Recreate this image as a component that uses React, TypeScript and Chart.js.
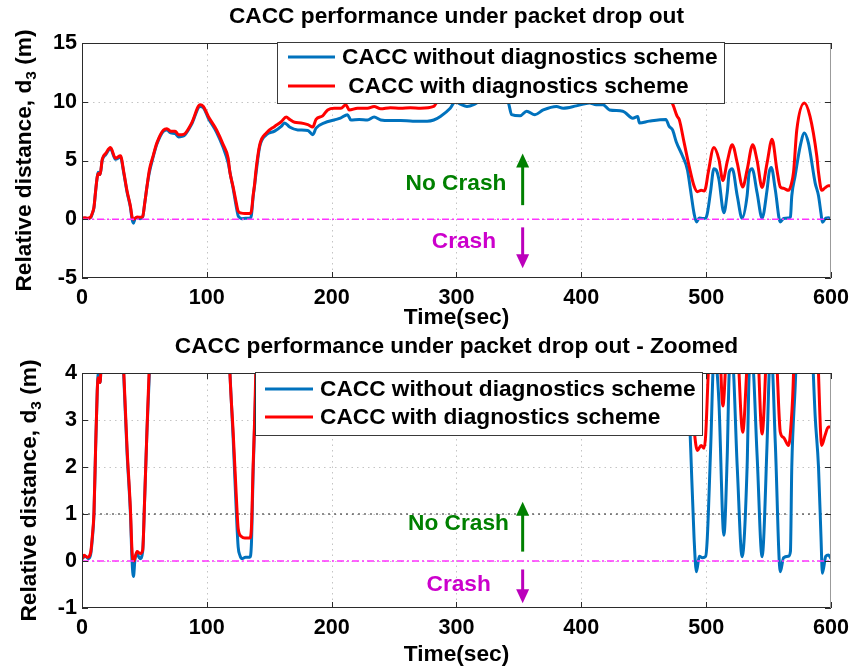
import { useEffect, useRef } from 'react';
import { Chart, registerables } from 'chart.js';

Chart.register(...registerables);

const FONT = '"Liberation Sans", Arial, Helvetica, sans-serif';
const TEXT_SIZE = 22.7;
const TICK_SIZE = 21.6;

// Inter-vehicle gap d3 (m) over time (s) — CACC without the diagnostics scheme
const timeWithout = [
  0, 3, 5, 7, 8.2, 9.6, 10.9, 12.2, 13, 14.5, 16.2, 19, 22.8, 26.8, 30.8, 33.5, 36.1, 38.8, 40.1, 41.2,
  42.5, 44, 46.5, 48.6, 50.2, 52, 54, 57, 60, 65.3, 68, 71, 74.6, 77.3, 80, 82.6, 87.9, 94.6, 97.2, 101.2,
  107.8, 113.1, 117.1, 118.5, 121.1, 123.7, 125.1, 126.5, 128, 131, 134.4, 135.7, 137.1, 138.4, 139.5, 142.4, 147.7, 154.3, 159.6, 162.3,
  166.3, 172.9, 180.9, 184.9, 187.5, 194.2, 202.1, 207, 212.7, 215.4, 222, 228.7, 234, 239.3, 247, 255.2, 265, 276.5, 281.8, 287.1,
  295, 299, 303, 308.4, 313.7, 319, 325, 333, 339, 341.6, 344.2, 350.9, 356.2, 362.8, 369.5, 380.1, 385.4, 396, 406.6, 411.9,
  417.3, 422.6, 433.2, 441.2, 445.2, 446.5, 454.4, 467.7, 470.4, 473.1, 476, 481, 485, 487.6, 490.3, 492.2, 494.5, 497, 499.6, 500.9,
  503.6, 506.2, 508, 510.2, 514.2, 516.9, 518.5, 520.9, 524.9, 528.8, 532.8, 534.5, 536.8, 540.8, 544.8, 548.8, 550.5, 552.2, 555.4, 559.4,
  562, 566, 567.5, 568.6, 571.3, 575.3, 578.7, 581.9, 587.3, 590, 592, 593.1, 595.8, 597.9, 600,
];
const distWithout = [
  0.05, 0.1, 0.05, 0.15, 0.45, 1.0, 2.4, 3.6, 4.0, 3.8, 5.0, 5.5, 6.0, 5.1, 5.3, 3.9, 2.3, 1.0, 0.0, -0.33,
  0.05, 0.15, 0.05, 0.2, 1.33, 2.74, 4.0, 5.3, 6.4, 7.5, 7.6, 7.35, 7.3, 7.0, 7.05, 7.2, 8.1, 9.6, 9.5, 8.6,
  7.4, 6.1, 4.8, 4.0, 2.6, 1.0, 0.3, 0.12, 0.05, 0.08, 0.08, 0.35, 1.9, 3.0, 4.0, 6.2, 7.2, 7.5, 7.9, 8.2,
  7.85, 7.6, 7.55, 7.2, 7.75, 8.2, 8.45, 8.6, 8.9, 8.45, 8.5, 8.45, 8.7, 8.45, 8.4, 8.4, 8.35, 8.35, 8.45, 8.75,
  9.45, 10.0, 9.8, 9.6, 9.75, 10.1, 10.4, 10.5, 10.3, 9.9, 8.9, 8.8, 9.2, 8.9, 9.3, 9.6, 9.45, 9.65, 9.9, 9.75,
  9.75, 9.3, 9.2, 8.6, 8.75, 8.2, 8.35, 8.5, 7.9, 7.6, 6.6, 5.4, 4.2, 2.4, 0.5, -0.23, 0.1, 0.07, 0.1, 0.48,
  2.4, 4.3, 4.2, 3.4, 0.55, 2.25, 4.0, 4.3, 2.0, 0.09, 2.0, 4.0, 4.3, 2.25, 0.09, 2.5, 4.0, 4.4, 2.5, -0.23,
  0.07, 0.1, 0.2, 2.0, 3.7, 6.2, 7.35, 6.5, 3.1, 2.0, 0.5, -0.26, 0.1, 0.13, 0.05,
];

// Inter-vehicle gap d3 (m) over time (s) — CACC with the diagnostics scheme
const timeWith = [
  0, 1.6, 4.3, 6.9, 8.2, 9.6, 10.9, 12.2, 13, 14.5, 16.2, 19, 22.8, 26.8, 30.8, 33.5, 36.1, 38.8, 40.1, 41.4,
  44.1, 46.7, 48.6, 50.2, 52, 54, 57, 60, 65.3, 68, 71, 74.6, 77.3, 80, 82.6, 87.9, 94.6, 97.2, 101.2, 107.8,
  113.1, 117.1, 118.5, 121.1, 123.7, 125.1, 127.7, 130.4, 134.4, 135.7, 137.1, 138.4, 139.2, 142.4, 147.7, 154.3, 159.6, 163.6, 166.3, 170.3,
  175.5, 180.9, 184.9, 187.5, 192.8, 196.8, 202.1, 207.4, 211.4, 214.1, 220.7, 228.7, 234, 239.3, 247, 255.2, 263, 271.2, 281.8, 284.5,
  290, 300, 320, 340, 360, 380, 400, 420, 440, 460, 468, 472.8, 476.8, 478.4, 482.4, 486.4, 490.4, 493, 496, 498.3,
  499.6, 501.7, 506.2, 510.2, 513.4, 516.9, 520.9, 524.9, 529.3, 532.8, 537.3, 540.8, 544.8, 548.8, 552.8, 556.7, 559.4, 562, 566, 568,
  570, 572.6, 578.7, 583.2, 588.6, 590, 592.6, 595.2, 597.9, 600,
];
const distWith = [
  0.05, 0.12, 0.08, 0.18, 0.5, 1.05, 2.4, 3.6, 3.9, 3.8, 5.1, 5.6, 6.1, 5.2, 5.4, 4.0, 2.4, 1.1, 0.2, 0.0,
  0.2, 0.16, 0.23, 1.33, 2.74, 4.2, 5.4, 6.5, 7.6, 7.7, 7.5, 7.5, 7.2, 7.2, 7.3, 8.2, 9.75, 9.6, 8.75, 7.6,
  6.35, 5.2, 4.0, 2.74, 1.33, 0.69, 0.52, 0.49, 0.49, 0.69, 2.03, 3.1, 4.0, 6.35, 7.35, 7.9, 8.3, 8.7, 8.5, 8.25,
  8.2, 8.05, 7.85, 8.5, 8.8, 9.3, 9.45, 9.45, 9.75, 9.3, 9.45, 9.45, 9.6, 9.4, 9.5, 9.45, 9.5, 9.45, 9.6, 10.0,
  10.5, 10.7, 10.8, 10.9, 10.6, 10.8, 10.9, 10.8, 10.7, 10.6, 10.4, 9.9, 8.75, 8.5, 6.5, 4.5, 2.8, 2.35, 2.46, 2.4,
  2.67, 4.0, 6.1, 5.1, 3.3, 4.9, 6.35, 4.8, 2.74, 4.2, 6.35, 5.0, 2.7, 4.8, 6.8, 4.2, 2.74, 2.63, 2.46, 2.9,
  4.0, 7.6, 9.9, 8.75, 5.4, 4.0, 2.46, 2.67, 2.85, 2.85,
];

const seriesLabels = ['CACC without diagnostics scheme', 'CACC with diagnostics scheme'];
const seriesColors = ['#0072BD', '#FF0000'];

const timeRange = [0, 600];
const timeStep = 100;
const fullRange = [-5, 15];
const fullStep = 5;
const zoomRange = [-1, 4];
const zoomStep = 1;

const crashLevel = 0; // d3 = 0 m: collision boundary
const marginLevel = 1; // d3 = 1 m: reference line in the zoomed view

const safeText = 'No Crash';
const crashText = 'Crash';

type Note = {
  safe: { t: number; v: number };
  safeArrow: { t: number; from: number; to: number };
  crash: { t: number; v: number };
  crashArrow: { t: number; from: number; to: number };
};

type PanelSpec = {
  title: string;
  height: number;
  areaTop: number;
  areaBottom: number;
  range: number[];
  step: number;
  legend: { x: number; y: number; w: number; h: number; lineX0: number; lineX1: number; textX: number; rows: number[] };
  legendLabels: string[];
  notes: Note;
  titleY: number;
  xLabelY: number;
  yLabelX: number;
  showMargin: boolean;
};

const AREA_LEFT = 82;
const AREA_RIGHT = 835;
const WIDTH = 856;

const panels: PanelSpec[] = [
  {
    title: 'CACC performance under packet drop out',
    height: 335,
    areaTop: 43,
    areaBottom: 278,
    range: fullRange,
    step: fullStep,
    legend: { x: 277, y: 42, w: 447, h: 61, lineX0: 288, lineX1: 335, textX: 342, rows: [57, 86] },
    legendLabels: [seriesLabels[0], ' ' + seriesLabels[1]],
    notes: {
      safe: { t: 340, v: 3.06 },
      safeArrow: { t: 353, from: 1.2, to: 5.6 },
      crash: { t: 331.7, v: -1.9 },
      crashArrow: { t: 353, from: -0.69, to: -4.17 },
    },
    titleY: 17,
    xLabelY: 318,
    yLabelX: 23,
    showMargin: false,
  },
  {
    title: 'CACC performance under packet drop out - Zoomed',
    height: 336,
    areaTop: 38,
    areaBottom: 273,
    range: zoomRange,
    step: zoomStep,
    legend: { x: 255, y: 37, w: 447, h: 63, lineX0: 265, lineX1: 313, textX: 320, rows: [54, 82] },
    legendLabels: seriesLabels,
    notes: {
      safe: { t: 342, v: 0.8 },
      safeArrow: { t: 353, from: 0.2, to: 1.26 },
      crash: { t: 327.5, v: -0.51 },
      crashArrow: { t: 353, from: -0.18, to: -0.9 },
    },
    titleY: 12,
    xLabelY: 320,
    yLabelX: 27.5,
    showMargin: true,
  },
];

function toPoints(ts: number[], vs: number[]) {
  return ts.map((t, i) => ({ x: t, y: vs[i] }));
}

function drawArrow(ctx: CanvasRenderingContext2D, x: number, y0: number, y1: number, color: string) {
  const dir = y1 < y0 ? -1 : 1;
  const head = 14;
  ctx.save();
  ctx.strokeStyle = color;
  ctx.fillStyle = color;
  ctx.lineWidth = 3;
  ctx.beginPath();
  ctx.moveTo(x, y0);
  ctx.lineTo(x, y1 - dir * head * 0.8);
  ctx.stroke();
  ctx.beginPath();
  ctx.moveTo(x, y1);
  ctx.lineTo(x - 6.5, y1 - dir * head);
  ctx.lineTo(x + 6.5, y1 - dir * head);
  ctx.closePath();
  ctx.fill();
  ctx.restore();
}

function makeConfig(spec: PanelSpec): any {
  const textFont = `bold ${TEXT_SIZE}px ${FONT}`;

  const gridPlugin = {
    id: 'dottedGrid',
    beforeDatasetsDraw(chart: any) {
      const { ctx, chartArea: a, scales } = chart;
      const xs = scales.x;
      const ys = scales.y;
      ctx.save();
      ctx.strokeStyle = '#c4c4c4';
      ctx.lineWidth = 1;
      ctx.setLineDash([1.5, 4]);
      xs.ticks.forEach((tk: any) => {
        const px = Math.round(xs.getPixelForValue(tk.value)) + 0.5;
        if (px > a.left + 2 && px < a.right - 2) {
          ctx.beginPath();
          ctx.moveTo(px, a.top);
          ctx.lineTo(px, a.bottom);
          ctx.stroke();
        }
      });
      ys.ticks.forEach((tk: any) => {
        const py = Math.round(ys.getPixelForValue(tk.value)) + 0.5;
        if (py > a.top + 2 && py < a.bottom - 2) {
          ctx.beginPath();
          ctx.moveTo(a.left, py);
          ctx.lineTo(a.right, py);
          ctx.stroke();
        }
      });
      ctx.restore();
    },
  };

  const overlayPlugin = {
    id: 'overlay',
    afterDatasetsDraw(chart: any) {
      const { ctx, chartArea: a, scales } = chart;
      const xs = scales.x;
      const ys = scales.y;
      ctx.save();

      // axes box
      ctx.lineWidth = 1;
      ctx.strokeStyle = '#2b2b2b';
      ctx.beginPath();
      ctx.moveTo(a.right, a.top + 0.5);
      ctx.lineTo(a.left + 0.5, a.top + 0.5);
      ctx.lineTo(a.left + 0.5, a.bottom - 0.5);
      ctx.lineTo(a.right, a.bottom - 0.5);
      ctx.stroke();
      ctx.strokeStyle = '#9a9a9a';
      ctx.beginPath();
      ctx.moveTo(a.right - 0.5, a.top);
      ctx.lineTo(a.right - 0.5, a.bottom);
      ctx.stroke();

      // inward tick marks on all four sides
      const tl = 6;
      ctx.strokeStyle = '#2b2b2b';
      xs.ticks.forEach((tk: any) => {
        const px = Math.round(xs.getPixelForValue(tk.value)) + 0.5;
        ctx.beginPath();
        ctx.moveTo(px, a.bottom);
        ctx.lineTo(px, a.bottom - tl);
        ctx.moveTo(px, a.top);
        ctx.lineTo(px, a.top + tl);
        ctx.stroke();
      });
      ys.ticks.forEach((tk: any) => {
        const py = Math.round(ys.getPixelForValue(tk.value)) + 0.5;
        ctx.beginPath();
        ctx.moveTo(a.left, py);
        ctx.lineTo(a.left + tl, py);
        ctx.moveTo(a.right, py);
        ctx.lineTo(a.right - tl, py);
        ctx.stroke();
      });

      // crash / no-crash annotations
      const n = spec.notes;
      ctx.font = textFont;
      ctx.textAlign = 'right';
      ctx.textBaseline = 'middle';
      ctx.fillStyle = '#008000';
      ctx.fillText(safeText, xs.getPixelForValue(n.safe.t), ys.getPixelForValue(n.safe.v));
      ctx.fillStyle = '#CC00CC';
      ctx.fillText(crashText, xs.getPixelForValue(n.crash.t), ys.getPixelForValue(n.crash.v));
      drawArrow(ctx, xs.getPixelForValue(n.safeArrow.t), ys.getPixelForValue(n.safeArrow.from), ys.getPixelForValue(n.safeArrow.to), '#008000');
      drawArrow(ctx, xs.getPixelForValue(n.crashArrow.t), ys.getPixelForValue(n.crashArrow.from), ys.getPixelForValue(n.crashArrow.to), '#BB00BB');

      // legend box
      const L = spec.legend;
      ctx.fillStyle = '#ffffff';
      ctx.fillRect(L.x, L.y, L.w, L.h);
      ctx.strokeStyle = '#3a3a3a';
      ctx.lineWidth = 1;
      ctx.strokeRect(L.x + 0.5, L.y + 0.5, L.w, L.h);
      spec.legendLabels.forEach((label, i) => {
        const ry = L.rows[i];
        ctx.strokeStyle = seriesColors[i];
        ctx.lineWidth = 3;
        ctx.beginPath();
        ctx.moveTo(L.lineX0, ry);
        ctx.lineTo(L.lineX1, ry);
        ctx.stroke();
        ctx.fillStyle = '#000';
        ctx.textAlign = 'left';
        ctx.textBaseline = 'middle';
        ctx.font = textFont;
        ctx.fillText(label, L.textX, ry + 1);
      });
      ctx.restore();
    },
    afterDraw(chart: any) {
      const { ctx, chartArea: a } = chart;
      const cx = (a.left + a.right) / 2;
      ctx.save();
      ctx.fillStyle = '#000';
      ctx.font = textFont;
      ctx.textAlign = 'center';
      ctx.textBaseline = 'middle';
      ctx.fillText(spec.title, cx, spec.titleY);
      ctx.fillText('Time(sec)', cx, spec.xLabelY);

      // y-axis label with subscript
      const main = 'Relative distance, d';
      const sub = '3';
      const tail = ' (m)';
      const subFont = `bold 15.5px ${FONT}`;
      ctx.font = textFont;
      const w1 = ctx.measureText(main).width;
      const w3 = ctx.measureText(tail).width;
      ctx.font = subFont;
      const w2 = ctx.measureText(sub).width;
      const total = w1 + w2 + w3;
      ctx.translate(spec.yLabelX, (a.top + a.bottom) / 2);
      ctx.rotate(-Math.PI / 2);
      ctx.textAlign = 'left';
      ctx.textBaseline = 'alphabetic';
      const base = 8;
      ctx.font = textFont;
      ctx.fillText(main, -total / 2, base);
      ctx.font = subFont;
      ctx.fillText(sub, -total / 2 + w1, base + 5);
      ctx.font = textFont;
      ctx.fillText(tail, -total / 2 + w1 + w2, base);
      ctx.restore();
    },
  };

  const datasets: any[] = [
    {
      label: seriesLabels[1],
      data: toPoints(timeWith, distWith),
      borderColor: seriesColors[1],
      borderWidth: 3,
      cubicInterpolationMode: 'monotone',
      order: 1,
    },
    {
      label: seriesLabels[0],
      data: toPoints(timeWithout, distWithout),
      borderColor: seriesColors[0],
      borderWidth: 3,
      cubicInterpolationMode: 'monotone',
      order: 2,
    },
    {
      label: 'crash boundary',
      data: toPoints(timeRange, [crashLevel, crashLevel]),
      borderColor: '#FF33FF',
      borderWidth: 1.5,
      borderDash: [7, 3, 2, 3],
      order: 0,
    },
  ];
  if (spec.showMargin) {
    datasets.push({
      label: 'margin',
      data: toPoints(timeRange, [marginLevel, marginLevel]),
      borderColor: '#222222',
      borderWidth: 1.2,
      borderDash: [2, 4],
      order: 3,
    });
  }
  datasets.forEach((d) => {
    d.pointRadius = 0;
    d.fill = false;
  });

  const tickFont = { family: FONT, size: TICK_SIZE, weight: 'bold' as const };
  const xAxisHeight = spec.height - spec.areaBottom;

  return {
    type: 'line',
    data: { datasets },
    options: {
      responsive: false,
      animation: false,
      devicePixelRatio: 1,
      layout: { padding: { left: 0, right: WIDTH - AREA_RIGHT, top: spec.areaTop, bottom: 0 } },
      plugins: { legend: { display: false }, title: { display: false }, tooltip: { enabled: false } },
      scales: {
        x: {
          type: 'linear',
          min: timeRange[0],
          max: timeRange[1],
          grid: { display: false, drawTicks: false },
          border: { display: false },
          ticks: { stepSize: timeStep, color: '#000', font: tickFont, padding: 7, maxRotation: 0 },
          afterFit: (s: any) => {
            s.height = xAxisHeight;
          },
        },
        y: {
          type: 'linear',
          min: spec.range[0],
          max: spec.range[1],
          grid: { display: false, drawTicks: false },
          border: { display: false },
          ticks: { stepSize: spec.step, color: '#000', font: tickFont, padding: 5 },
          afterFit: (s: any) => {
            s.width = AREA_LEFT;
          },
        },
      },
    },
    plugins: [gridPlugin, overlayPlugin],
  };
}

function Panel({ spec, top }: { spec: PanelSpec; top: number }) {
  const ref = useRef<HTMLCanvasElement | null>(null);
  useEffect(() => {
    if (!ref.current) return;
    const chart = new Chart(ref.current, makeConfig(spec));
    return () => chart.destroy();
  }, [spec]);
  return (
    <canvas
      ref={ref}
      width={WIDTH}
      height={spec.height}
      style={{ position: 'absolute', left: 0, top, width: WIDTH, height: spec.height, display: 'block' }}
    />
  );
}

export default function App() {
  return (
    <div style={{ position: 'fixed', left: 0, top: 0, width: WIDTH, height: 671, background: '#fff', overflow: 'hidden' }}>
      <Panel spec={panels[0]} top={0} />
      <Panel spec={panels[1]} top={panels[0].height} />
    </div>
  );
}
